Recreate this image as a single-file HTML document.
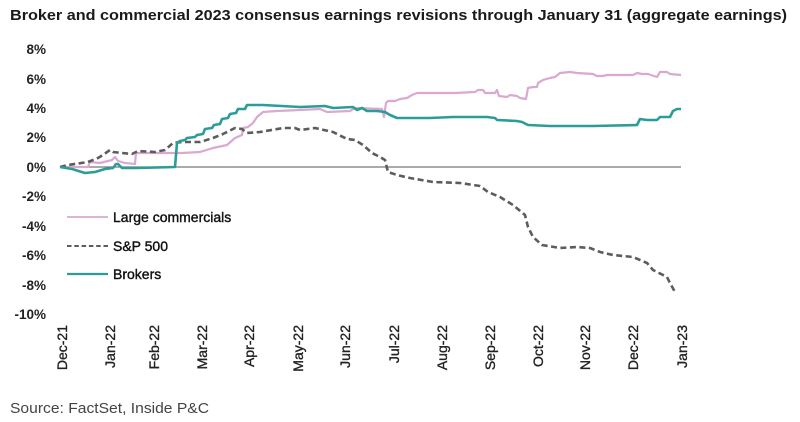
<!DOCTYPE html>
<html>
<head>
<meta charset="utf-8">
<style>
  html, body { margin: 0; padding: 0; background: #ffffff; }
  body { width: 800px; height: 422px; overflow: hidden; }
  svg { display: block; font-family: "Liberation Sans", "DejaVu Sans", sans-serif; }
</style>
</head>
<body>
<svg width="800" height="422" viewBox="0 0 800 422" xmlns="http://www.w3.org/2000/svg">
  <rect width="800" height="422" fill="#ffffff"/>

  <!-- Title -->
  <text x="10" y="20" font-size="15" font-weight="bold" fill="#1a1a1a" textLength="777" lengthAdjust="spacingAndGlyphs">Broker and commercial 2023 consensus earnings revisions through January 31 (aggregate earnings)</text>

  <!-- Y axis labels -->
  <g font-size="13.5" font-weight="bold" fill="#222" text-anchor="end">
    <text x="46" y="54">8%</text>
    <text x="46" y="84">6%</text>
    <text x="46" y="113">4%</text>
    <text x="46" y="142">2%</text>
    <text x="46" y="172">0%</text>
    <text x="46" y="201">-2%</text>
    <text x="46" y="231">-4%</text>
    <text x="46" y="260">-6%</text>
    <text x="46" y="290">-8%</text>
    <text x="46" y="319">-10%</text>
  </g>

  <!-- Zero axis line -->
  <line x1="60" y1="167" x2="681" y2="167" stroke="#777" stroke-width="1.2"/>

  <!-- X axis labels (rotated) -->
  <g font-size="14" fill="#222" stroke="#222" stroke-width="0.35" text-anchor="end">
    <text transform="translate(67,325) rotate(-90)">Dec-21</text>
    <text transform="translate(115,325) rotate(-90)">Jan-22</text>
    <text transform="translate(159,325) rotate(-90)">Feb-22</text>
    <text transform="translate(207,325) rotate(-90)">Mar-22</text>
    <text transform="translate(254,325) rotate(-90)">Apr-22</text>
    <text transform="translate(303,325) rotate(-90)">May-22</text>
    <text transform="translate(350,325) rotate(-90)">Jun-22</text>
    <text transform="translate(399,325) rotate(-90)">Jul-22</text>
    <text transform="translate(447,325) rotate(-90)">Aug-22</text>
    <text transform="translate(495,325) rotate(-90)">Sep-22</text>
    <text transform="translate(543,325) rotate(-90)">Oct-22</text>
    <text transform="translate(590,325) rotate(-90)">Nov-22</text>
    <text transform="translate(638,325) rotate(-90)">Dec-22</text>
    <text transform="translate(687,325) rotate(-90)">Jan-23</text>
  </g>

  <!-- Large commercials (pink) -->
  <polyline fill="none" stroke="#dba8cf" stroke-width="2.2" stroke-linejoin="round"
    points="60,167 88,167 90,162 100,163 112,160 115,157 118,161 125,163 135,164 136,153 160,153 182,153 200,152 213,148 227,145 235,138 242,135 243,128 248,127 253,123 257,117 263,112 277,111 300,110 320,109 327,112 350,111 355,108 382,109 384,117 386,103 388,101 395,101 400,99 407,98 412,95 417,93 450,93 455,93 475,92 478,90 483,90 485,93 495,93 497,90 499,96 507,97 510,95 517,96 520,98 526,99 528,88 533,87 537,87 538,83 543,80 550,78 555,77 560,73 570,72 577,73 593,74 597,76 603,76 607,75 633,75 637,73 642,74 648,74 657,77 660,72 667,72 670,74 681,75"/>

  <!-- S&P 500 (gray dashed) -->
  <polyline fill="none" stroke="#5c5c5c" stroke-width="2.6" stroke-dasharray="6,3.5" stroke-linejoin="round"
    points="60,167 68,165 88,162 98,158 103,155 110,150 113,152 122,153 132,154 138,151 155,152 165,150 173,143 182,142 200,142 213,138 223,134 235,128 242,129 247,133 260,132 283,128 295,128 300,130 315,128 333,132 347,139 355,140 363,145 372,153 380,157 385,160 388,172 397,175 410,178 433,182 460,183 480,186 488,192 500,197 513,205 525,215 528,227 533,237 542,245 560,248 577,247 590,248 600,252 613,255 633,257 647,263 653,270 667,277 670,283 675,292"/>

  <!-- Brokers (teal) -->
  <polyline fill="none" stroke="#2a9d99" stroke-width="2.6" stroke-linejoin="round"
    points="60,167 72,169 85,173 95,172 105,169 113,168 116,164 118,164 122,168 138,168 175,167 177,143 180,141 185,140 187,138 195,137 197,135 203,134 205,129 212,128 214,125 220,124 222,119 228,118 230,114 236,113 238,109 245,109 247,105 263,105 300,107 325,106 333,108 353,107 357,110 362,108 367,111 377,111 385,112 390,115 397,118 430,118 453,117 487,117 495,118 497,120 517,121 522,122 528,125 550,126 593,126 637,125 640,119 647,120 657,120 660,117 670,117 673,111 677,109 681,109"/>

  <!-- Legend -->
  <line x1="67" y1="217" x2="108" y2="217" stroke="#dba8cf" stroke-width="1.8"/>
  <text x="113" y="222" font-size="14" fill="#111" stroke="#111" stroke-width="0.4">Large commercials</text>
  <line x1="67" y1="246" x2="108" y2="246" stroke="#5c5c5c" stroke-width="2" stroke-dasharray="4.5,2.8"/>
  <text x="113" y="251" font-size="14" fill="#111" stroke="#111" stroke-width="0.4">S&amp;P 500</text>
  <line x1="67" y1="274" x2="108" y2="274" stroke="#2a9d99" stroke-width="2.2"/>
  <text x="113" y="279" font-size="14" fill="#111" stroke="#111" stroke-width="0.4">Brokers</text>

  <!-- Source -->
  <text x="10" y="413" font-size="15" fill="#444" textLength="199" lengthAdjust="spacingAndGlyphs">Source: FactSet, Inside P&amp;C</text>
</svg>
</body>
</html>
